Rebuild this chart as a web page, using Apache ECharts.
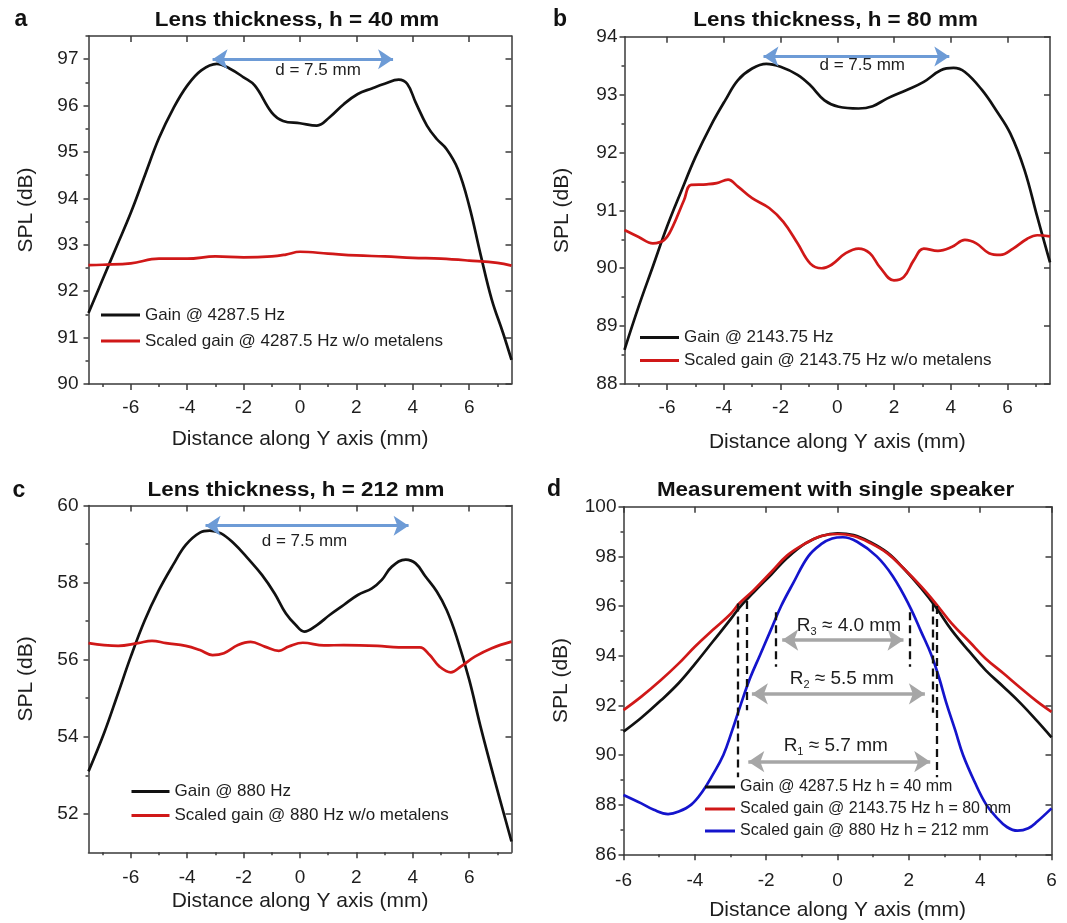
<!DOCTYPE html>
<html>
<head>
<meta charset="utf-8">
<title>SPL along Y axis</title>
<script src="https://cdn.jsdelivr.net/npm/echarts@6/dist/echarts.min.js"></script>
<style>
  html, body { margin: 0; padding: 0; background: #fff; }
  #main { width: 1067px; height: 923px; }
</style>
</head>
<body>
<div id="main"></div>
<script>
// ---- data ----
// a: h = 40 mm
var aGainX = [-7.5, -7, -6.5, -6, -5.5, -5, -4.5, -4, -3.5, -2.95, -2.5, -2, -1.6, -1, -0.6, 0, 0.6, 1.05, 1.55, 2.05, 2.55, 3, 3.5, 3.8, 4.1, 4.5, 4.85, 5.2, 5.6, 6, 6.4, 6.8, 7.2, 7.5];
var aGainY = [91.53, 92.25, 92.97, 93.69, 94.5, 95.3, 95.93, 96.43, 96.76, 96.9, 96.8, 96.61, 96.43, 95.85, 95.67, 95.62, 95.57, 95.75, 96.03, 96.25, 96.37, 96.47, 96.56, 96.47, 96.07, 95.57, 95.28, 95.06, 94.63, 93.84, 92.8, 91.82, 91.1, 90.52];
var aScaledX = [-7.5, -7, -6, -5, -4, -3, -2, -1, -0.5, 0, 1, 2, 3, 4, 5, 6, 7, 7.5];
var aScaledY = [92.56, 92.57, 92.6, 92.7, 92.7, 92.75, 92.73, 92.75, 92.79, 92.85, 92.81, 92.77, 92.75, 92.72, 92.7, 92.66, 92.61, 92.55];

// b: h = 80 mm
var bGainX = [-7.5, -7, -6.5, -6, -5.5, -5, -4.45, -3.95, -3.5, -3, -2.5, -2, -1.4, -0.95, -0.45, 0.05, 0.75, 1.25, 1.75, 2.45, 3.05, 3.65, 4.1, 4.5, 5.1, 5.6, 6.1, 6.6, 7.05, 7.5];
var bGainY = [88.59, 89.34, 90.03, 90.72, 91.33, 91.92, 92.47, 92.9, 93.25, 93.45, 93.53, 93.48, 93.34, 93.16, 92.9, 92.79, 92.76, 92.8, 92.93, 93.08, 93.22, 93.42, 93.46, 93.39, 93.08, 92.73, 92.33, 91.7, 90.89, 90.1];
var bScaledX = [-7.5, -7, -6.5, -6.1, -5.8, -5.4, -5.15, -4.6, -4.25, -3.85, -3.5, -3, -2.4, -1.9, -1.4, -0.95, -0.55, -0.2, 0.3, 0.75, 1.15, 1.5, 2, 2.35, 2.7, 3.05, 3.55, 4.05, 4.5, 4.9, 5.35, 5.75, 6.2, 6.7, 7.05, 7.5];
var bScaledY = [90.66, 90.54, 90.43, 90.49, 90.72, 91.18, 91.44, 91.45, 91.47, 91.53, 91.41, 91.21, 91.04, 90.8, 90.43, 90.08, 90.0, 90.06, 90.26, 90.34, 90.26, 90.02, 89.79, 89.85, 90.14, 90.34, 90.3, 90.37, 90.49, 90.43, 90.26, 90.23, 90.34, 90.51, 90.57, 90.55];

// c: h = 212 mm
var cGainX = [-7.5, -6.95, -6.45, -6, -5.5, -5, -4.5, -4.05, -3.55, -3.2, -2.8, -2.35, -1.85, -1.35, -0.9, -0.5, -0.15, 0.15, 0.6, 1.05, 1.55, 2.05, 2.55, 2.9, 3.25, 3.75, 4.1, 4.45, 4.85, 5.2, 5.55, 6, 6.4, 6.9, 7.5];
var cGainY = [53.1, 54.09, 55.13, 56.08, 57.03, 57.81, 58.46, 58.98, 59.3, 59.35, 59.28, 59.02, 58.63, 58.2, 57.72, 57.2, 56.9, 56.73, 56.9, 57.16, 57.42, 57.68, 57.85, 58.07, 58.41, 58.6, 58.5, 58.16, 57.77, 57.29, 56.6, 55.48, 54.27, 52.88, 51.28];
var cScaledX = [-7.5, -6.95, -6.45, -5.75, -5.25, -4.75, -4.05, -3.55, -3.1, -2.7, -2.2, -1.75, -1.25, -0.75, -0.4, 0.1, 0.85, 1.55, 2.75, 3.5, 4.25, 4.6, 4.95, 5.35, 5.7, 6.2, 6.8, 7.5];
var cScaledY = [56.43, 56.38, 56.36, 56.43, 56.49, 56.43, 56.36, 56.25, 56.12, 56.17, 56.38, 56.46, 56.34, 56.23, 56.34, 56.44, 56.37, 56.38, 56.36, 56.32, 56.32, 56.12, 55.82, 55.67, 55.82, 56.08, 56.3, 56.47];

// d: single speaker
var dX = [-6, -5.5, -4.95, -4.45, -4, -3.5, -3, -2.75, -2.35, -1.85, -1.4, -0.9, -0.45, 0, 0.45, 0.9, 1.4, 1.85, 2.35, 2.75, 3.2, 3.7, 4.15, 4.65, 5.15, 5.6, 6];
var dGain40 = [90.94, 91.5, 92.2, 92.9, 93.66, 94.56, 95.46, 95.94, 96.55, 97.28, 97.95, 98.52, 98.82, 98.93, 98.86, 98.59, 98.15, 97.52, 96.71, 95.97, 95.03, 94.16, 93.42, 92.75, 92.06, 91.36, 90.71];
var dGain80 = [91.81, 92.35, 93.02, 93.69, 94.36, 95.03, 95.68, 96.11, 96.64, 97.38, 98.05, 98.52, 98.82, 98.9, 98.82, 98.55, 98.12, 97.52, 96.78, 96.11, 95.3, 94.56, 93.89, 93.29, 92.68, 92.15, 91.74];
var dBlueX = [-6, -5.5, -5.15, -4.75, -4.45, -4.1, -3.8, -3.5, -3.2, -2.95, -2.72, -2.45, -2.18, -1.88, -1.58, -1.25, -0.82, -0.45, -0.15, 0.15, 0.55, 1.1, 1.55, 2.02, 2.35, 2.64, 2.85, 3.05, 3.3, 3.52, 3.85, 4.17, 4.45, 4.75, 5.05, 5.35, 5.6, 6];
var dGain212 = [88.39, 88.05, 87.79, 87.62, 87.72, 88.0, 88.5, 89.2, 90.0, 91.0, 92.0, 93.1, 94.0, 95.0, 96.0, 96.9, 98.0, 98.5, 98.72, 98.77, 98.59, 98.0, 97.2, 96.0, 94.95, 94.0, 93.1, 92.1, 91.0, 90.0, 88.9, 88.0, 87.5, 87.1, 86.95, 87.05, 87.32, 87.85];

var xTicks = [-6, -4, -2, 0, 2, 4, 6];
var xMinorWide = [-7, -5, -3, -1, 1, 3, 5, 7];
var xMinorD = [-5, -3, -1, 1, 3, 5];
var aYTicks = [90, 91, 92, 93, 94, 95, 96, 97];
var aYMinor = [90.5, 91.5, 92.5, 93.5, 94.5, 95.5, 96.5, 97.5];
var bYTicks = [88, 89, 90, 91, 92, 93, 94];
var bYMinor = [88.5, 89.5, 90.5, 91.5, 92.5, 93.5];
var cYTicks = [52, 54, 56, 58, 60];
var cYMinor = [53, 55, 57, 59];
var dYTicks = [86, 88, 90, 92, 94, 96, 98, 100];
var dYMinor = [87, 89, 91, 93, 95, 97, 99];

var FONT = 'Arial, "Liberation Sans", sans-serif';
var AXIS_COLOR = '#3a3a3a';
var TXT = '#1e1e1e';
var BLACK = '#111111';
var RED = '#d01818';
var BLUE = '#1414cc';
var ARROW_BLUE = '#6d9bd6';
var ARROW_GREY = '#a6a6a6';

function pairs(xs, ys) {
    var out = [];
    for (var i = 0; i < xs.length; i++) {
        out.push([xs[i], ys[i]]);
    }
    return out;
}

var axisLineStyle = {color: AXIS_COLOR, width: 1.5};

// bottom axis with labels, bottom minor ticks, top mirror
function makeX(g, min, max, minor, nameGap, labelMargin) {
    return [{
        gridIndex: g, type: 'value', min: min, max: max, position: 'bottom',
        name: 'Distance along Y axis (mm)', nameLocation: 'middle', nameGap: nameGap,
        nameTextStyle: {fontSize: 21, color: TXT, fontFamily: FONT},
        axisLine: {onZero: false, lineStyle: axisLineStyle},
        axisTick: {customValues: xTicks, length: 6, lineStyle: axisLineStyle},
        axisLabel: {customValues: xTicks, margin: labelMargin, fontSize: 19, color: TXT, fontFamily: FONT},
        splitLine: {show: false}
    }, {
        gridIndex: g, type: 'value', min: min, max: max, position: 'bottom',
        axisLine: {show: false, onZero: false},
        axisTick: {customValues: minor, length: 3, lineStyle: axisLineStyle},
        axisLabel: {show: false},
        splitLine: {show: false}
    }, {
        gridIndex: g, type: 'value', min: min, max: max, position: 'top',
        axisLine: {onZero: false, lineStyle: axisLineStyle},
        axisTick: {inside: true, customValues: xTicks, length: 6, lineStyle: axisLineStyle},
        axisLabel: {show: false},
        splitLine: {show: false}
    }];
}

function makeY(g, min, max, ticks, minor, labelMargin) {
    return [{
        gridIndex: g, type: 'value', min: min, max: max, position: 'left',
        name: 'SPL (dB)', nameLocation: 'middle', nameGap: 52, nameRotate: 90,
        nameTextStyle: {fontSize: 21, color: TXT, fontFamily: FONT},
        axisLine: {onZero: false, lineStyle: axisLineStyle},
        axisTick: {customValues: ticks, length: 5, lineStyle: axisLineStyle},
        axisLabel: {customValues: ticks, margin: labelMargin, fontSize: 19, color: TXT, fontFamily: FONT},
        splitLine: {show: false}
    }, {
        gridIndex: g, type: 'value', min: min, max: max, position: 'left',
        axisLine: {show: false, onZero: false},
        axisTick: {customValues: minor, length: 3, lineStyle: axisLineStyle},
        axisLabel: {show: false},
        splitLine: {show: false}
    }, {
        gridIndex: g, type: 'value', min: min, max: max, position: 'right',
        axisLine: {onZero: false, lineStyle: axisLineStyle},
        axisTick: {inside: true, customValues: ticks, length: 6, lineStyle: axisLineStyle},
        axisLabel: {show: false},
        splitLine: {show: false}
    }];
}

function curve(name, xs, ys, color, g) {
    return {
        type: 'line', name: name, xAxisIndex: 3 * g, yAxisIndex: 3 * g,
        data: pairs(xs, ys), smooth: 0.4, symbol: 'none', showSymbol: false,
        lineStyle: {color: color, width: 2.7}, itemStyle: {color: color},
        silent: true, animation: false, z: 3
    };
}

// double headed arrow between two points
function arrow(x1, x2, y, color, width, size) {
    return [
        {coord: [x1, y], symbol: 'arrow', symbolSize: size, lineStyle: {color: color, width: width, type: 'solid'}},
        {coord: [x2, y], symbol: 'arrow', symbolSize: size}
    ];
}
function dashed(x, y1, y2) {
    return [
        {coord: [x, y1], symbol: 'none', lineStyle: {color: '#111', width: 2.3, type: [8, 5]}},
        {coord: [x, y2], symbol: 'none'}
    ];
}
function textMark(x, y, text, size) {
    return {
        coord: [x, y], symbol: 'circle', symbolSize: 0,
        label: {show: true, position: 'inside', formatter: text, color: TXT, fontSize: size, fontFamily: FONT,
            rich: {sub: {fontSize: 11, fontFamily: FONT, color: TXT, padding: [12, 0, 0, 0]}}}
    };
}

var markBase = {silent: true, animation: false, label: {show: false}, emphasis: {disabled: true}};

var sA = curve('Gain @ 4287.5 Hz', aGainX, aGainY, BLACK, 0);
var sA2 = curve('Scaled gain @ 4287.5 Hz w/o metalens', aScaledX, aScaledY, RED, 0);
sA.markLine = Object.assign({}, markBase, {data: [arrow(-3.1, 3.3, 97.0, ARROW_BLUE, 3, 15)]});
sA.markPoint = {silent: true, animation: false, data: [textMark(0.64, 96.77, 'd = 7.5 mm', 17)]};

var sB = curve('Gain @ 2143.75 Hz', bGainX, bGainY, BLACK, 1);
var sB2 = curve('Scaled gain @ 2143.75 Hz w/o metalens', bScaledX, bScaledY, RED, 1);
sB.markLine = Object.assign({}, markBase, {data: [arrow(-2.6, 3.95, 93.66, ARROW_BLUE, 3, 15)]});
sB.markPoint = {silent: true, animation: false, data: [textMark(0.88, 93.51, 'd = 7.5 mm', 17)]};

var sC = curve('Gain @ 880 Hz', cGainX, cGainY, BLACK, 2);
var sC2 = curve('Scaled gain @ 880 Hz w/o metalens', cScaledX, cScaledY, RED, 2);
sC.markLine = Object.assign({}, markBase, {data: [arrow(-3.35, 3.85, 59.48, ARROW_BLUE, 3, 15)]});
sC.markPoint = {silent: true, animation: false, data: [textMark(0.16, 59.08, 'd = 7.5 mm', 17)]};

var sD1 = curve('Gain @ 4287.5 Hz h = 40 mm', dX, dGain40, BLACK, 3);
var sD2 = curve('Scaled gain @ 2143.75 Hz h = 80 mm', dX, dGain80, RED, 3);
var sD3 = curve('Scaled gain @ 880 Hz h = 212 mm', dBlueX, dGain212, BLUE, 3);
sD3.markLine = Object.assign({}, markBase, {data: [
    dashed(-2.8, 96.1, 89.1), dashed(-2.55, 96.2, 91.8),
    dashed(-1.73, 95.75, 93.55), dashed(2.03, 95.75, 93.55),
    dashed(2.66, 96.1, 91.7), dashed(2.79, 96.0, 89.1),
    arrow(-1.55, 1.85, 94.63, ARROW_GREY, 3.5, 16),
    arrow(-2.4, 2.45, 92.46, ARROW_GREY, 3.5, 16),
    arrow(-2.5, 2.6, 89.73, ARROW_GREY, 3.5, 16)
]});
sD3.markPoint = {silent: true, animation: false, data: [
    textMark(0.32, 95.2, 'R{sub|3} ≈ 4.0 mm', 19),
    textMark(0.12, 93.05, 'R{sub|2} ≈ 5.5 mm', 19),
    textMark(-0.05, 90.36, 'R{sub|1} ≈ 5.7 mm', 19)
]};

function legend(left, top, gap, size, w, names) {
    return {
        left: left, top: top, orient: 'vertical', padding: 0, itemGap: gap,
        icon: 'rect', itemWidth: w, itemHeight: 3, selectedMode: false,
        textStyle: {fontSize: size, color: TXT, fontFamily: FONT},
        data: names
    };
}

function label(x, y, text, font, sx) {
    return {
        type: 'text', x: x, y: y, scaleX: sx || 1, silent: true,
        style: {text: text, font: font, fill: '#111', textAlign: 'center', textVerticalAlign: 'middle', align: 'center', verticalAlign: 'middle'}
    };
}

var option = {
    backgroundColor: '#fff',
    animation: false,
    grid: [
        {left: 88.5, top: 36, width: 423, height: 348},
        {left: 624.5, top: 36.7, width: 425.5, height: 347.3},
        {left: 88.5, top: 505.6, width: 423, height: 346.7},
        {left: 623.5, top: 506.7, width: 428, height: 347.6}
    ],
    xAxis: [].concat(
        makeX(0, -7.5, 7.5, xMinorWide, 45, 14),
        makeX(1, -7.5, 7.5, xMinorWide, 48, 14),
        makeX(2, -7.5, 7.5, xMinorWide, 38, 16),
        makeX(3, -6, 6, xMinorD, 45, 17)
    ),
    yAxis: [].concat(
        makeY(0, 90, 97.5, aYTicks, aYMinor, 10),
        makeY(1, 88, 94, bYTicks, bYMinor, 7),
        makeY(2, 51, 60, cYTicks, cYMinor, 10),
        makeY(3, 86, 100, dYTicks, dYMinor, 7)
    ),
    legend: [
        legend(101, 306.5, 9, 17, 39, ['Gain @ 4287.5 Hz', 'Scaled gain @ 4287.5 Hz w/o metalens']),
        legend(640, 329, 6, 17, 39, ['Gain @ 2143.75 Hz', 'Scaled gain @ 2143.75 Hz w/o metalens']),
        legend(131.5, 783, 7, 17, 38, ['Gain @ 880 Hz', 'Scaled gain @ 880 Hz w/o metalens']),
        legend(705, 779, 6, 16, 30, ['Gain @ 4287.5 Hz h = 40 mm', 'Scaled gain @ 2143.75 Hz h = 80 mm', 'Scaled gain @ 880 Hz h = 212 mm'])
    ],
    graphic: [
        label(21, 20, 'a', 'bold 23px ' + FONT),
        label(560, 20, 'b', 'bold 23px ' + FONT),
        label(19, 491, 'c', 'bold 23px ' + FONT),
        label(554, 490, 'd', 'bold 23px ' + FONT),
        label(297, 20, 'Lens thickness, h = 40 mm', 'bold 20px ' + FONT, 1.12),
        label(835.6, 20, 'Lens thickness, h = 80 mm', 'bold 20px ' + FONT, 1.12),
        label(296, 490, 'Lens thickness, h = 212 mm', 'bold 20px ' + FONT, 1.12),
        label(835.6, 490, 'Measurement with single speaker', 'bold 20px ' + FONT, 1.12)
    ],
    series: [sA, sA2, sB, sB2, sC, sC2, sD1, sD2, sD3]
};

var chart = echarts.init(document.getElementById('main'), null, {renderer: 'canvas'});
chart.setOption(option);
</script>
</body>
</html>
